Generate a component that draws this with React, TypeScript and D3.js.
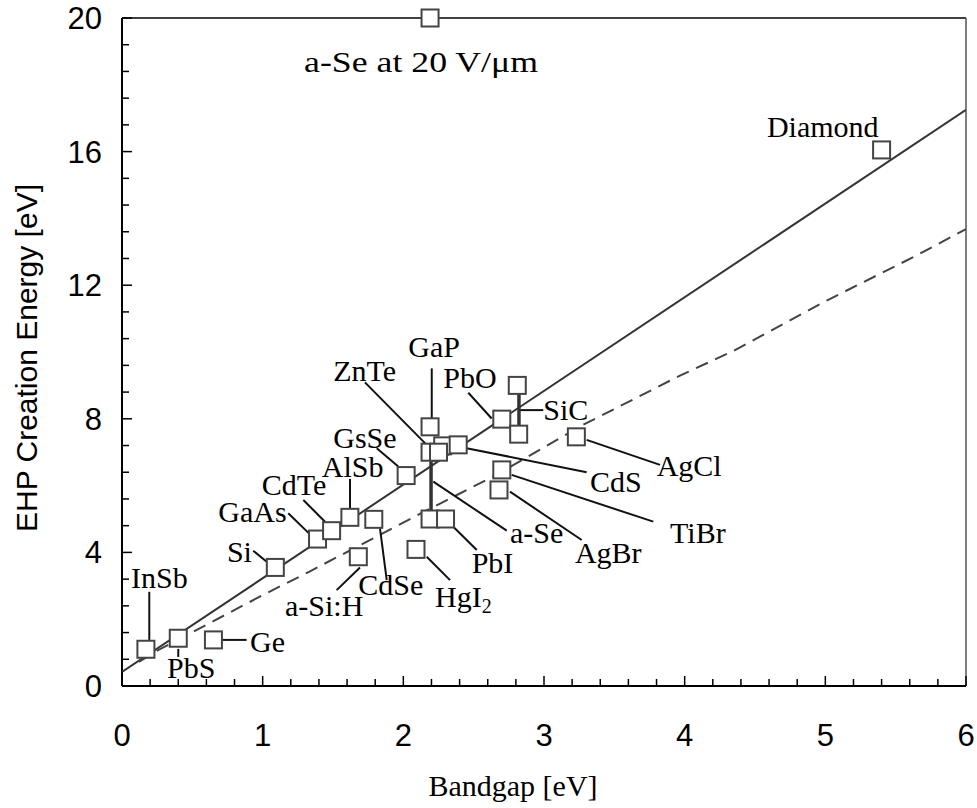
import React from "react";
import * as d3 from "d3";

// measured materials: bandgap [eV] vs EHP creation energy [eV]
const materials = ["InSb", "PbS", "Ge", "Si", "GaAs", "CdTe", "AlSb", "CdSe", "a-Si:H", "GsSe",
  "GaP", "ZnTe", "ZnSe", "a-Se", "CdS", "a-Se", "PbI", "HgI2", "PbO", "SiC", "SiC",
  "AgCl", "TiBr", "AgBr", "Diamond", "a-Se 20V/um"];
const bandgap = [0.17, 0.40, 0.65, 1.09, 1.39, 1.49, 1.62, 1.79, 1.68, 2.02,
  2.19, 2.19, 2.28, 2.25, 2.39, 2.19, 2.30, 2.09, 2.70, 2.81, 2.82,
  3.23, 2.70, 2.68, 5.40, 2.19];
const ehpEnergy = [1.10, 1.43, 1.38, 3.55, 4.40, 4.65, 5.05, 4.99, 3.87, 6.30,
  7.76, 7.00, 7.19, 7.00, 7.22, 5.00, 5.00, 4.09, 7.99, 9.00, 7.54,
  7.46, 6.47, 5.87, 16.05, 20.0];

// ranges drawn as thick bars (a-Se, SiC)
const rangeX = [2.197, 2.822];
const rangeLow = [5.0, 7.54];
const rangeHigh = [7.0, 9.0];

// Klein-type linear fit (solid) and theoretical curve (dashed)
const fitX = [0, 6];
const fitY = [0.42, 17.25];
const curveX = [0.12, 0.26, 1.0, 1.33, 2.13, 2.66, 3.26, 3.97, 4.35, 5.01, 5.63, 6.0];
const curveY = [0.72, 1.08, 2.72, 3.42, 5.18, 6.32, 7.78, 9.30, 10.04, 11.54, 12.85, 13.68];

const xTicks = [0, 1, 2, 3, 4, 5, 6];
const yTicks = [0, 4, 8, 12, 16, 20];

// label text (start x, baseline y) and leader line, in data units
const labels = [
  { t: "InSb", x: 0.064, y: 2.93, l: [0.194, 2.82, 0.194, 1.38] },
  { t: "PbS", x: 0.32, y: 0.24, l: [0.40, 1.11, 0.40, 0.87] },
  { t: "Ge", x: 0.91, y: 1.02, l: [0.716, 1.38, 0.886, 1.38] },
  { t: "Si", x: 0.746, y: 3.71, l: [0.933, 4.05, 1.029, 3.72] },
  { t: "GaAs", x: 0.685, y: 4.92, l: [1.182, 5.17, 1.329, 4.57] },
  { t: "CdTe", x: 0.993, y: 5.72, l: [1.289, 5.57, 1.443, 4.92] },
  { t: "AlSb", x: 1.42, y: 6.27, l: [1.621, 6.2, 1.621, 5.32] },
  { t: "GsSe", x: 1.502, y: 7.14, l: [1.811, 7.12, 1.964, 6.57] },
  { t: "ZnTe", x: 1.502, y: 9.13, l: [1.727, 9.09, 2.166, 7.22] },
  { t: "GaP", x: 2.035, y: 9.86, l: [2.202, 9.51, 2.202, 8.01] },
  { t: "PbO", x: 2.284, y: 8.91, l: [2.462, 8.78, 2.628, 8.01] },
  { t: "SiC", x: 2.995, y: 7.96, l: [2.822, 8.26, 2.995, 8.26] },
  { t: "CdS", x: 3.327, y: 5.82, l: [2.450, 7.12, 3.303, 6.40] },
  { t: "AgCl", x: 3.801, y: 6.29, l: [3.303, 7.37, 3.825, 6.62] },
  { t: "TiBr", x: 3.896, y: 4.27, l: [2.770, 6.32, 3.777, 4.92] },
  { t: "AgBr", x: 3.220, y: 3.67, l: [2.758, 5.82, 3.268, 4.37] },
  { t: "a-Se", x: 2.758, y: 4.29, l: [2.213, 6.12, 2.735, 4.65] },
  { t: "PbI", x: 2.486, y: 3.37, l: [2.355, 4.77, 2.522, 4.07] },
  { t: "HgI2", x: 2.225, y: 2.36, l: [2.166, 3.87, 2.332, 3.17] },
  { t: "CdSe", x: 1.680, y: 2.72, l: [1.834, 4.72, 1.882, 3.17] },
  { t: "a-Si:H", x: 1.159, y: 2.10, l: [1.526, 2.87, 1.692, 3.55] },
  { t: "Diamond", x: 4.585, y: 16.45, l: null },
];

const W = 977, H = 808;
const left = 122, right = 966, top = 18, bottom = 686;

export default function App() {
  const x = d3.scaleLinear().domain([0, 6]).range([left, right]);
  const y = d3.scaleLinear().domain([0, 20]).range([bottom, top]);

  const line = d3.line<number>().x((_, i) => x(fitX[i])).y((d) => y(d));
  const curve = d3.line<number>().x((_, i) => x(curveX[i])).y((d) => y(d));

  const xMinor = d3.range(0, 6.001, 0.2);
  const yMinor = d3.range(0, 20.001, 0.8);
  const serif = "'Liberation Serif', 'Times New Roman', serif";
  const sans = "'Liberation Sans', Arial, sans-serif";
  const sq = 17;

  return (
    <svg width={W} height={H} style={{ position: "absolute", left: 0, top: 0, background: "#fff" }}>
      <defs>
        <clipPath id="plot">
          <rect x={left} y={top} width={right - left} height={bottom - top} />
        </clipPath>
      </defs>

      {/* frame */}
      <line x1={left} x2={right} y1={top} y2={top} stroke="#000" strokeWidth={1.5} />
      <line x1={right} x2={right} y1={top} y2={bottom} stroke="#555" strokeWidth={1.5} />

      {/* ticks */}
      {xMinor.map((v, i) => (
        <line key={"xm" + i} x1={x(v)} x2={x(v)} y1={bottom} y2={bottom - (i % 5 === 0 ? 10 : 7)} stroke="#000" strokeWidth={1.5} />
      ))}
      {yMinor.map((v, i) => (
        <line key={"ym" + i} x1={left} x2={left + (i % 5 === 0 ? 10 : 7)} y1={y(v)} y2={y(v)} stroke="#000" strokeWidth={1.5} />
      ))}
      <line x1={left} x2={right} y1={bottom} y2={bottom} stroke="#000" strokeWidth={2} />
      <line x1={left} x2={left} y1={top} y2={bottom} stroke="#000" strokeWidth={2} />

      {/* tick labels */}
      {xTicks.map((v) => (
        <text key={"xt" + v} x={x(v)} y={746} textAnchor="middle" fontFamily={sans} fontSize={31}>{v}</text>
      ))}
      {yTicks.map((v) => (
        <text key={"yt" + v} x={102} y={y(v) + 11} textAnchor="end" fontFamily={sans} fontSize={31}>{v}</text>
      ))}

      {/* axis titles */}
      <text x={513} y={796} textAnchor="middle" fontFamily={serif} fontSize={30}>Bandgap [eV]</text>
      <text transform={`translate(37,358) rotate(-90)`} textAnchor="middle" fontFamily={sans} fontSize={30}>EHP Creation Energy [eV]</text>

      {/* fit and theory */}
      <g clipPath="url(#plot)">
        <path d={line(fitY) || ""} fill="none" stroke="#333" strokeWidth={2} />
        <path d={curve(curveY) || ""} fill="none" stroke="#444" strokeWidth={2} strokeDasharray="13,8" />
      </g>

      {/* leaders */}
      {labels.filter((d) => d.l).map((d, i) => (
        <line key={"ld" + i} x1={x(d.l![0])} y1={y(d.l![1])} x2={x(d.l![2])} y2={y(d.l![3])} stroke="#111" strokeWidth={2} />
      ))}

      {/* range bars */}
      {rangeX.map((v, i) => (
        <line key={"rb" + i} x1={x(v)} x2={x(v)} y1={y(rangeLow[i])} y2={y(rangeHigh[i])} stroke="#333" strokeWidth={3.5} />
      ))}

      {/* points */}
      {materials.map((m, i) => (
        <rect key={"p" + i} x={x(bandgap[i]) - sq / 2} y={y(ehpEnergy[i]) - sq / 2} width={sq} height={sq}
          fill="#fff" stroke="#444" strokeWidth={2} />
      ))}

      {/* labels */}
      {labels.map((d, i) => (
        <text key={"lb" + i} x={x(d.x)} y={y(d.y)} fontFamily={serif} fontSize={30} fill="#000">
          {d.t === "HgI2" ? (<>HgI<tspan fontSize={20} dy={6}>2</tspan></>) : d.t}
        </text>
      ))}
      <text x={x(2.126)} y={y(18.38)} textAnchor="middle" fontFamily={serif} fontSize={30}
        textLength={234} lengthAdjust="spacingAndGlyphs">a-Se at 20 V/μm</text>
    </svg>
  );
}
